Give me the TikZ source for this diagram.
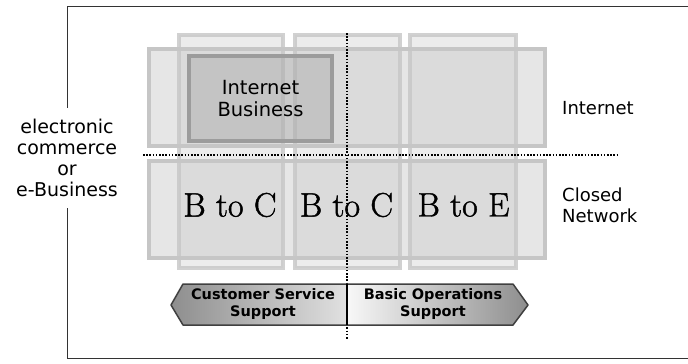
\documentclass[tikz,border=0pt]{standalone}
\usepackage{fontspec}
\newfontfamily\dejavu{DejaVu Sans}
\newfontfamily\heavyserif[FakeBold=1.3]{Latin Modern Roman}
\definecolor{bandgray}{HTML}{E6E6E6}
\definecolor{colgray}{HTML}{C8C8C8}
\definecolor{rimgray}{HTML}{C6C6C6}
\definecolor{boxgray}{HTML}{A8A8A8}
\definecolor{boxrim}{HTML}{9C9C9C}
\definecolor{arrowend}{HTML}{8E8E8E}

\begin{document}
\begin{tikzpicture}[x=1pt,y=-1pt,
  rim/.style={draw=rimgray,line width=3.5pt},
  sidetext/.style={font=\dejavu\fontsize{18}{21}\selectfont,align=left,inner sep=0pt,anchor=west},
  btext/.style={font=\heavyserif\fontsize{34}{36}\selectfont,inner sep=0pt},
  arrowtext/.style={font=\dejavu\bfseries\fontsize{14.5}{17}\selectfont,align=center,inner sep=0pt},
  dots/.style={line width=1.8pt,dash pattern=on 1.6pt off 1.6pt}]
\useasboundingbox (0,0) rectangle (688,364);

% frame with the label on its left side
\node[font=\dejavu\fontsize{19}{21}\selectfont,align=center,inner xsep=2pt,inner ysep=11pt] (ecom) at (67,158) {electronic\\commerce\\or\\e-Business};
\draw[line width=1pt,black!80] (688,6) -- (67,6) -- (ecom.north);
\draw[line width=1pt,black!80] (ecom.south) -- (67,358) -- (688,358);

% bands and columns
\fill[bandgray] (149,49) rectangle (545,146);
\fill[bandgray] (149,161) rectangle (545,258);
\foreach \l/\r in {179/283, 295/400, 410/516}
  \fill[colgray,fill opacity=0.35] (\l,35) rectangle (\r,268);
\draw[rim] (149,49) rectangle (545,146);
\draw[rim] (149,161) rectangle (545,258);
\foreach \l/\r in {179/283, 295/400, 410/516}
  \draw[rim,draw opacity=0.8] (\l,35) rectangle (\r,268);

\node[fill=boxgray,fill opacity=0.45,text opacity=1,draw=boxrim,line width=4pt,
  minimum width=143pt,minimum height=85pt,align=center,
  font=\dejavu\fontsize{19.5}{22}\selectfont] (ib) at (260.5,98.5) {Internet\\Business};

\node[btext] (bc1) at (230,205) {B to C};
\node[btext] (bc2) at (346.5,205) {B to C};
\node[btext] (be) at (463.5,205) {B to E};

% dividing lines
\draw[dots] (143,155) -- (619,155);
\draw[dots] (347,33) -- (347,340);

% support arrow
\fill[left color=arrowend,right color=black!12] (171,305) -- (183,284) -- (347,284) -- (347,325) -- (183,325) -- cycle;
\fill[left color=black!3,right color=arrowend] (347,284) -- (513,284) -- (528,305) -- (513,325) -- (347,325) -- cycle;
\draw[line width=1.5pt,black!75,line join=round] (171,305) -- (183,284) -- (513,284) -- (528,305) -- (513,325) -- (183,325) -- cycle;
\draw[line width=1.2pt] (347,284) -- (347,325);
\node[arrowtext] (cust) at (263,304) {Customer Service\\Support};
\node[arrowtext] (basic) at (433,304) {Basic Operations\\Support};

\node[sidetext] (inet) at (562,108) {Internet};
\node[sidetext] (closed) at (562,205) {Closed\\Network};
\end{tikzpicture}
\end{document}
